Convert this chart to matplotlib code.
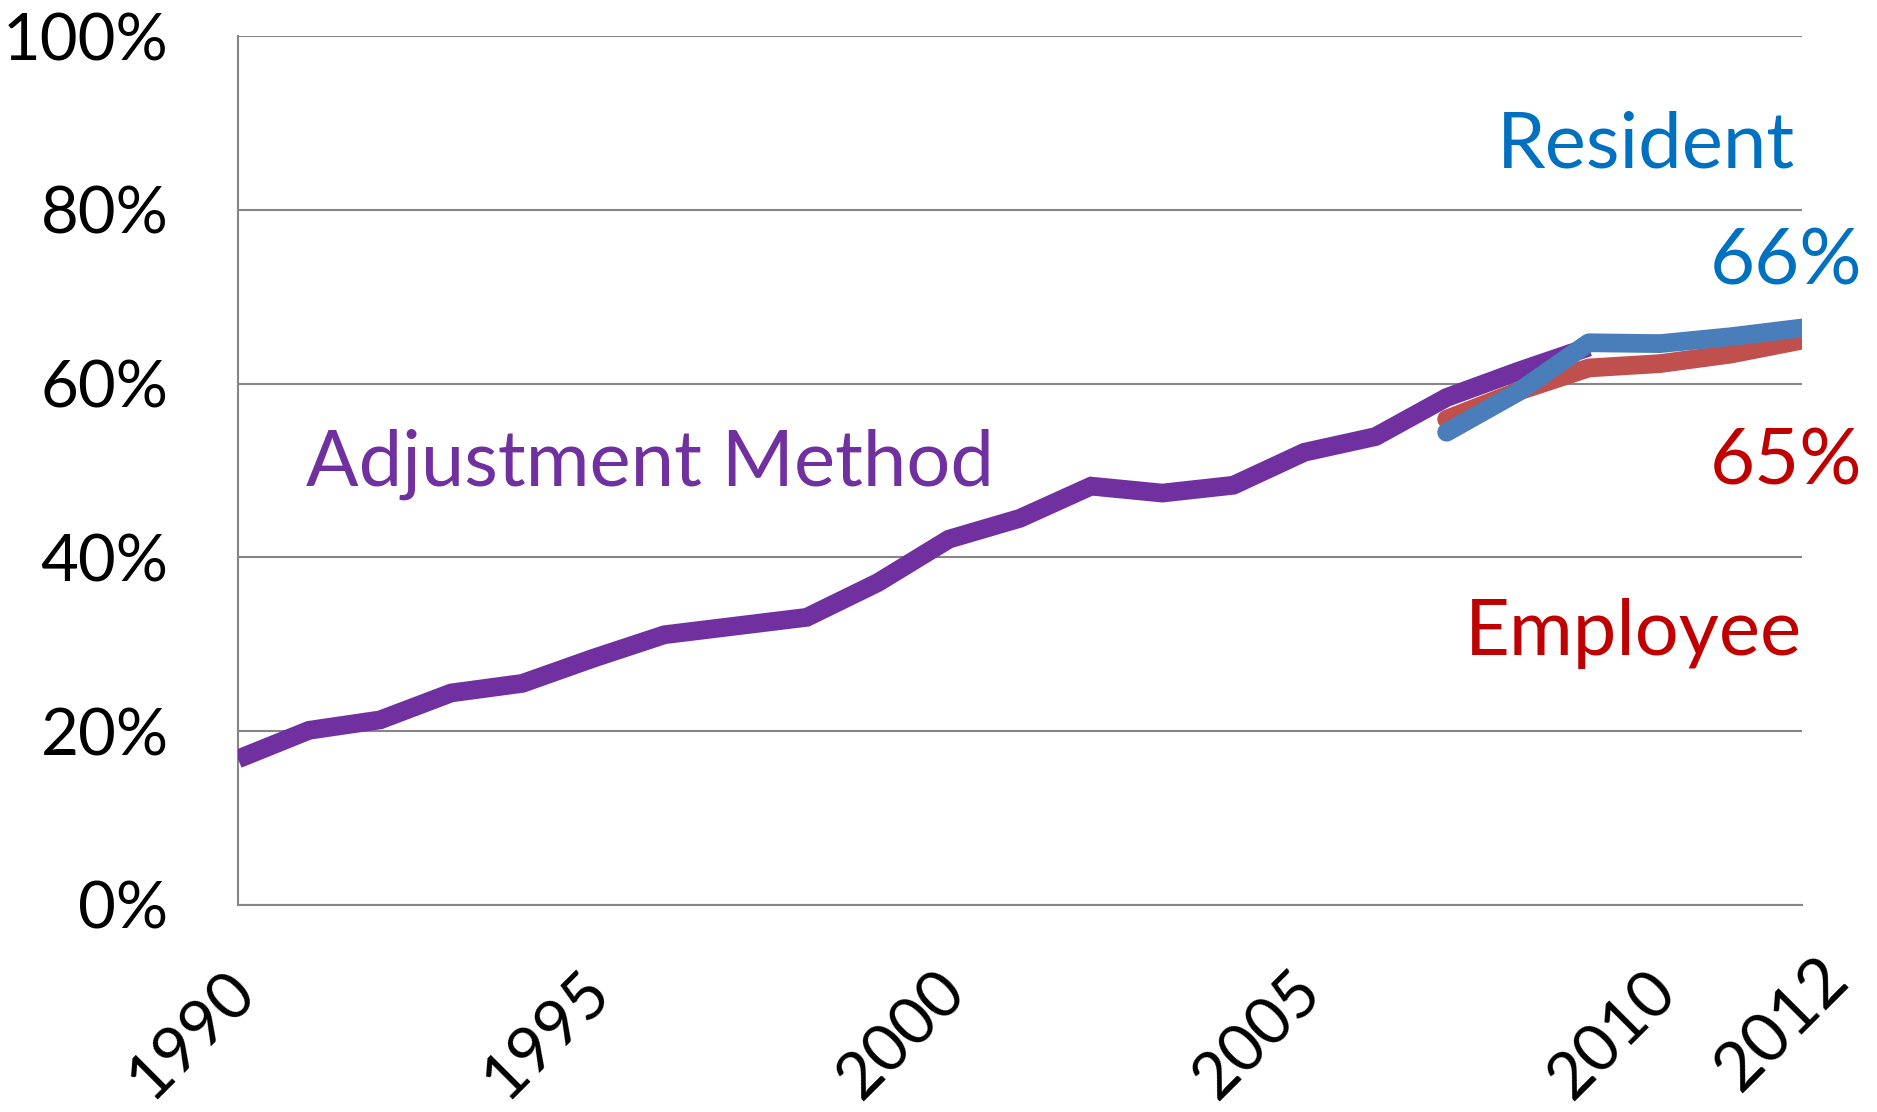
import matplotlib.pyplot as plt
from matplotlib.ticker import FuncFormatter
import matplotlib.transforms as mtransforms

plt.rcParams['font.family'] = ['Lato', 'DejaVu Sans']

# Adjustment method series (share, %)
adjYears = list(range(1990, 2010))
adjValues = [16.8, 20.1, 21.3, 24.4, 25.5, 28.4, 31.1, 32.1, 33.1, 37.1,
             42.1, 44.5, 48.2, 47.4, 48.3, 52.1, 53.9, 58.4, 61.4, 64.2]

# Employee and resident survey series
surveyYears = [2007, 2008, 2009, 2010, 2011, 2012]
employeeValues = [55.9, 59.1, 61.8, 62.3, 63.4, 65.0]
residentValues = [54.4, 59.0, 64.7, 64.6, 65.4, 66.4]

xTicks = [1990, 1995, 2000, 2005, 2010, 2012]
yTicks = [0, 20, 40, 60, 80, 100]

purple = "#7030A0"
redLine = "#C0504D"
blueLine = "#4A7EBB"
redText = "#C00000"
blueText = "#0070C0"

fig = plt.figure(figsize=(18.77, 11.12), dpi=100)
ax = fig.add_axes([0.1268, 0.1862, 0.8333, 0.7814])

ax.plot(adjYears, adjValues, color=purple, lw=13.5, solid_capstyle="butt",
        solid_joinstyle="miter", zorder=3)
ax.plot(surveyYears, employeeValues, color=redLine, lw=13.5,
        solid_capstyle="round", zorder=4)
ax.plot(surveyYears, residentValues, color=blueLine, lw=13.5,
        solid_capstyle="round", zorder=5)

ax.set_xlim(1990, 2012)
ax.set_ylim(0, 100)
ax.set_yticks(yTicks)
ax.yaxis.set_major_formatter(FuncFormatter(lambda v, p: f"{v:.0f}%"))
ax.grid(axis="y", color="#868686", lw=1.5)
ax.set_axisbelow(True)
for side in ["top", "right"]:
    ax.spines[side].set_visible(False)
for side in ["left", "bottom"]:
    ax.spines[side].set_color("#868686")
    ax.spines[side].set_linewidth(1.5)
ax.tick_params(axis="y", length=0, pad=50, labelsize=47)
ax.tick_params(axis="x", length=0, pad=40, labelsize=47)

ax.set_xticks(xTicks)
ax.set_xticklabels([str(y) for y in xTicks], rotation=45, ha="right", va="top")
shift = mtransforms.ScaledTranslation(28 / 100, 0, fig.dpi_scale_trans)
for lab in ax.get_xticklabels():
    lab.set_transform(lab.get_transform() + shift)
    if lab.get_text() == "2012":
        # last label sits a bit bigger and further right in the original
        lab.set_fontsize(49)
        lab.set_transform(lab.get_transform() + mtransforms.ScaledTranslation(30 / 100, 14 / 100, fig.dpi_scale_trans))

# Series labels
ax.text(1990.95, 50.7, "Adjustment Method", color=purple, fontsize=56,
        ha="left", va="center")
ax.text(2011.9, 87.4, "Resident", color=blueText, fontsize=56,
        ha="right", va="center")
ax.text(2012.85, 73.9, "66%", color=blueText, fontsize=56,
        ha="right", va="center", clip_on=False)
ax.text(2012.85, 50.9, "65%", color=redText, fontsize=56,
        ha="right", va="center", clip_on=False)
ax.text(2012, 31.2, "Employee", color=redText, fontsize=56,
        ha="right", va="center")

fig.savefig("out.png", dpi=100)
